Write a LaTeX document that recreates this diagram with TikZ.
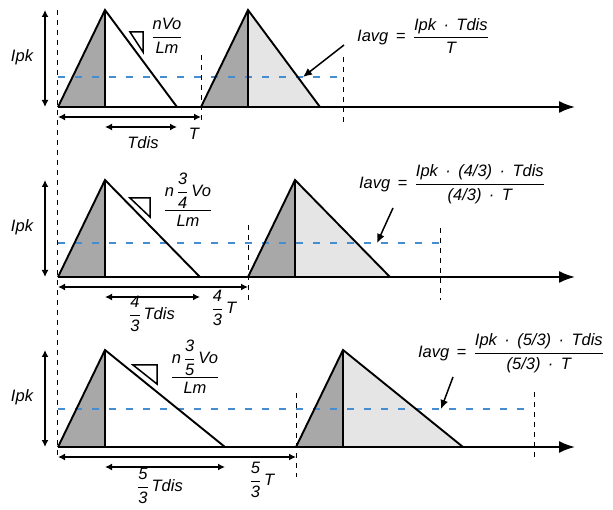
\documentclass[tikz,border=0pt]{standalone}
\usepackage{amsmath}
\usepackage{fontspec}
\setmainfont{Liberation Sans}
\usetikzlibrary{arrows.meta}
\definecolor{riseGray}{RGB}{168,168,168}
\definecolor{tailGray}{RGB}{229,229,229}
\definecolor{avgBlue}{RGB}{70,140,210}
\newcommand{\numfrac}[2]{\dfrac{\text{#1}\rule[-3pt]{0pt}{3pt}}{\text{#2}\rule{0pt}{13pt}}}
\newcommand{\gap}{\hspace{0.45em}}

\begin{document}
\begin{tikzpicture}[x=1pt,y=-1pt,
  wave/.style={line width=1.9pt},
  tick/.style={dash pattern=on 5pt off 5pt, line width=0.9pt},
  avg/.style={dash pattern=on 7pt off 10pt, line width=1.2pt, draw=avgBlue},
  span/.style={{Latex[length=7pt,width=7pt]}-{Latex[length=7pt,width=7pt]}, line width=1.8pt},
  axis/.style={-{Latex[length=16pt,width=12pt]}, line width=1.9pt},
  pointer/.style={-{Latex[length=9pt,width=8pt]}, line width=1.5pt},
  slope/.style={line width=1.5pt},
  lbl/.style={font=\fontsize{16.5}{19}\selectfont\itshape, inner sep=0pt}]
   \useasboundingbox (0,0) rectangle (613,510);

   % three pulse trains: base line, end of fall, start of 2nd pulse, avg level, end of period
   \foreach \p/\yb/\xf/\xt/\ya/\xe in {1/107/177/201/77/343, 2/277/200/248/243/440, 3/447/225/296/409/534}{
     \pgfmathsetmacro{\yt}{\yb-97}
     \pgfmathsetmacro{\xp}{\xt+47}
     \pgfmathsetmacro{\xq}{\xt+\xf-58}
     \coordinate (s\p) at (58,\yb);
     \coordinate (pk\p) at (105,\yt);
     \coordinate (m\p) at (105,\yb);
     \coordinate (f\p) at (\xf,\yb);
     \coordinate (t\p) at (\xt,\yb);
     \coordinate (qk\p) at (\xp,\yt);
     \coordinate (n\p) at (\xp,\yb);
     \coordinate (g\p) at (\xq,\yb);
     \coordinate (end\p) at (575,\yb);
     \coordinate (al\p) at (58,\ya);
     \coordinate (ar\p) at (\xe,\ya);
     \coordinate (it\p) at (45,\yt);
     \coordinate (ib\p) at (45,\yb);
     \fill[riseGray] (s\p) -- (pk\p) -- (m\p) -- cycle;
     \fill[riseGray] (t\p) -- (qk\p) -- (n\p) -- cycle;
     \fill[tailGray] (qk\p) -- (n\p) -- (g\p) -- cycle;
     \draw[avg] (al\p) -- (ar\p);
     \draw[wave] (s\p) -- (pk\p) -- (f\p) (pk\p) -- (m\p);
     \draw[wave] (t\p) -- (qk\p) -- (g\p) (qk\p) -- (n\p);
     \draw[axis] (s\p) -- (end\p);
     \draw[span] (it\p) -- (ib\p);
     \node[lbl] (ipk\p) at (22,\yb-50) {Ipk};
   }

   % long dashed line on the left
   \coordinate (lt) at (57,10);
   \coordinate (lb) at (57,460);
   \draw[tick] (lt) -- (lb);

   %% panel 1
   \coordinate (ta1) at (201,55);  \coordinate (tb1) at (201,120);
   \coordinate (ea1) at (343,57);  \coordinate (eb1) at (343,123);
   \draw[tick] (ta1) -- (tb1);
   \draw[tick] (ea1) -- (eb1);
   \coordinate (Ta1) at (58,117);  \coordinate (Tb1) at (201,117);
   \coordinate (da1) at (105,127); \coordinate (db1) at (177,127);
   \draw[span] (Ta1) -- (Tb1);
   \draw[span] (da1) -- (db1);
   \draw[slope] (130,32) -- (143,32) -- (143,52) -- cycle;
   \node[lbl] (rate1) at (167,36) {$\numfrac{nVo}{Lm}$};
   \node[lbl] (tdis1) at (143,143) {Tdis};
   \node[lbl] (per1) at (194,134) {T};
   \node[lbl] (eq1) at (423,36) {$\text{Iavg}\gap\text{=}\gap\numfrac{Ipk\gap·\gap Tdis}{T}$};
   \coordinate (pa1) at (344,45);  \coordinate (pb1) at (303,77);
   \draw[pointer] (pa1) -- (pb1);

   %% panel 2
   \coordinate (ta2) at (248,225); \coordinate (tb2) at (248,300);
   \coordinate (ea2) at (440,228); \coordinate (eb2) at (440,300);
   \draw[tick] (ta2) -- (tb2);
   \draw[tick] (ea2) -- (eb2);
   \coordinate (Ta2) at (58,287);  \coordinate (Tb2) at (248,287);
   \coordinate (da2) at (105,297); \coordinate (db2) at (200,297);
   \draw[span] (Ta2) -- (Tb2);
   \draw[span] (da2) -- (db2);
   \draw[slope] (130,198) -- (150,198) -- (150,217) -- cycle;
   \node[lbl] (rate2) at (188,200) {$\dfrac{\text{n}\,\numfrac{3}{4}\,\text{Vo}}{\text{Lm}\rule{0pt}{13pt}}$};
   \node[lbl] (tdis2) at (152,314) {$\numfrac{4}{3}\,\text{Tdis}$};
   \node[lbl] (per2) at (224,308) {$\numfrac{4}{3}\,\text{T}$};
   \node[lbl] (eq2) at (452,184) {$\text{Iavg}\gap\text{=}\gap\numfrac{Ipk\gap·\gap(4/3)\gap·\gap Tdis}{(4/3)\gap·\gap T}$};
   \coordinate (pa2) at (393,208); \coordinate (pb2) at (377,243);
   \draw[pointer] (pa2) -- (pb2);

   %% panel 3
   \coordinate (ta3) at (296,393); \coordinate (tb3) at (296,477);
   \coordinate (ea3) at (534,392); \coordinate (eb3) at (534,460);
   \draw[tick] (ta3) -- (tb3);
   \draw[tick] (ea3) -- (eb3);
   \coordinate (Ta3) at (58,457);  \coordinate (Tb3) at (296,457);
   \coordinate (da3) at (105,467); \coordinate (db3) at (225,467);
   \draw[span] (Ta3) -- (Tb3);
   \draw[span] (da3) -- (db3);
   \draw[slope] (133,365) -- (157,365) -- (157,384) -- cycle;
   \node[lbl] (rate3) at (195,367) {$\dfrac{\text{n}\,\numfrac{3}{5}\,\text{Vo}}{\text{Lm}\rule{0pt}{13pt}}$};
   \node[lbl] (tdis3) at (160,486) {$\numfrac{5}{3}\,\text{Tdis}$};
   \node[lbl] (per3) at (262,480) {$\numfrac{5}{3}\,\text{T}$};
   \node[lbl] (eq3) at (511,353) {$\text{Iavg}\gap\text{=}\gap\numfrac{Ipk\gap·\gap(5/3)\gap·\gap Tdis}{(5/3)\gap·\gap T}$};
   \coordinate (pa3) at (453,377); \coordinate (pb3) at (441,409);
   \draw[pointer] (pa3) -- (pb3);

  \end{tikzpicture}
\end{document}
